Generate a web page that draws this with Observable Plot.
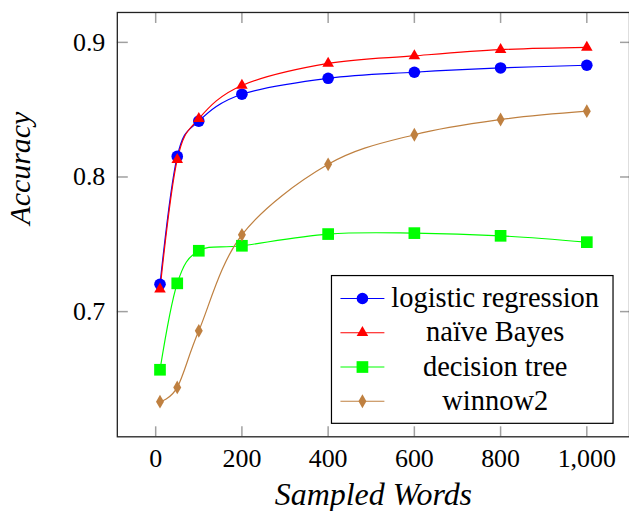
<!DOCTYPE html>
<html><head><meta charset="utf-8">
<script src="https://cdn.jsdelivr.net/npm/d3@7"></script>
<script src="https://cdn.jsdelivr.net/npm/@observablehq/plot@0.6"></script>
<style>
html,body{margin:0;padding:0;background:#fff;overflow:hidden;}
#chart{position:relative;width:629px;height:511px;overflow:hidden;}
</style></head><body><div id="chart"></div>
<script>
const words = [10, 50, 100, 200, 400, 600, 800, 1000];
const seriesNames = ["logistic regression", "naïve Bayes", "decision tree", "winnow2"];
const logisticRegression = [0.7203, 0.8153, 0.8415, 0.8615, 0.8733, 0.8778, 0.8810, 0.8830];
const naiveBayes = [0.7166, 0.8129, 0.8433, 0.8680, 0.8844, 0.8900, 0.8946, 0.8963];
const decisionTree = [0.6568, 0.7210, 0.7452, 0.7489, 0.7576, 0.7583, 0.7563, 0.7516];
const winnow2 = [0.6331, 0.6437, 0.6857, 0.7570, 0.8094, 0.8314, 0.8427, 0.8489];
const xTicks = [0, 200, 400, 600, 800, 1000];
const yTicks = [0.7, 0.8, 0.9];
const xLabel = "Sampled Words";
const yLabel = "Accuracy";

const colors = ["#0000ff", "#ff0000", "#00ff00", "#bf8040"];
const symbols = ["circle", "triangle", "square", "diamond"];
const d3symbols = [d3.symbolCircle, d3.symbolTriangle, d3.symbolSquare, d3.symbolDiamond];
const radii = [5.8, 4.3, 6.6, 4.2];

const allValues = [logisticRegression, naiveBayes, decisionTree, winnow2];
const data = [];
seriesNames.forEach((s, i) => words.forEach((w, j) => data.push({series: s, x: w, y: allValues[i][j]})));

const font = "Liberation Serif";
const tickStroke = "#a0a0a0";

const marks = [];
seriesNames.forEach((s, i) => {
  const d = data.filter(r => r.series === s);
  marks.push(Plot.line(d, {x: "x", y: "y", stroke: colors[i], strokeWidth: 1.2, curve: "cardinal", tension: 0}));
});
seriesNames.forEach((s, i) => {
  const d = data.filter(r => r.series === s);
  marks.push(Plot.dot(d, {x: "x", y: "y", symbol: symbols[i], r: radii[i], fill: colors[i], stroke: "none"}));
});

const plot = Plot.plot({
  width: 630, height: 511,
  marginLeft: 117, marginRight: 0, marginTop: 12, marginBottom: 74,
  x: {domain: [-89, 1099]},
  y: {domain: [0.607, 0.9222]},
  style: {color: "#000", background: "#fff", overflow: "visible"},
  marks: [
    ...marks,
    Plot.axisX({anchor: "bottom", ticks: xTicks, tickSize: -10, tickPadding: 22, tickFormat: d3.format(","), stroke: tickStroke, strokeWidth: 1.5, fill: "#000", label: null, fontFamily: font, fontSize: 26}),
    Plot.axisX({anchor: "top", ticks: xTicks, tickSize: -10, tickFormat: () => "", stroke: tickStroke, strokeWidth: 1.5, label: null}),
    Plot.axisY({anchor: "left", ticks: yTicks, tickSize: -11, tickPadding: 23, tickFormat: d3.format(".1f"), stroke: tickStroke, strokeWidth: 1.5, fill: "#000", label: null, fontFamily: font, fontSize: 26}),
    Plot.axisY({anchor: "right", ticks: yTicks, tickSize: -10, tickFormat: () => "", stroke: tickStroke, strokeWidth: 1.5, label: null}),
    Plot.frame({stroke: "#222", strokeWidth: 1.3}),
    Plot.text([xLabel], {text: d => d, frameAnchor: "bottom", lineAnchor: "middle", dy: 58, fontFamily: font, fontStyle: "italic", fontSize: 32, fill: "#000"}),
    Plot.text([yLabel], {text: d => d, frameAnchor: "left", lineAnchor: "middle", dx: -97, rotate: -90, fontFamily: font, fontStyle: "italic", fontSize: 30, fill: "#000"})
  ]
});
document.getElementById("chart").appendChild(plot);

// legend drawn inside the frame
const svg = d3.select(plot);
const lg = svg.append("g").attr("font-family", font).attr("font-size", 28.5);
lg.append("rect").attr("x", 332).attr("y", 276).attr("width", 282).attr("height", 148)
  .attr("fill", "#fff").attr("stroke", "#000").attr("stroke-width", 1.2);
seriesNames.forEach((s, i) => {
  const cy = 299 + i * 34.3;
  lg.append("line").attr("x1", 341).attr("x2", 385).attr("y1", cy).attr("y2", cy)
    .attr("stroke", colors[i]).attr("stroke-width", 1.2);
  lg.append("path").attr("transform", `translate(363,${cy})`)
    .attr("d", d3.symbol(d3symbols[i], Math.PI * radii[i] * radii[i])())
    .attr("fill", colors[i]);
  lg.append("text").attr("x", 496).attr("y", cy).attr("dy", "0.3em")
    .attr("font-family", font).attr("text-anchor", "middle").attr("fill", "#000").text(s);
});
</script>
</body></html>
